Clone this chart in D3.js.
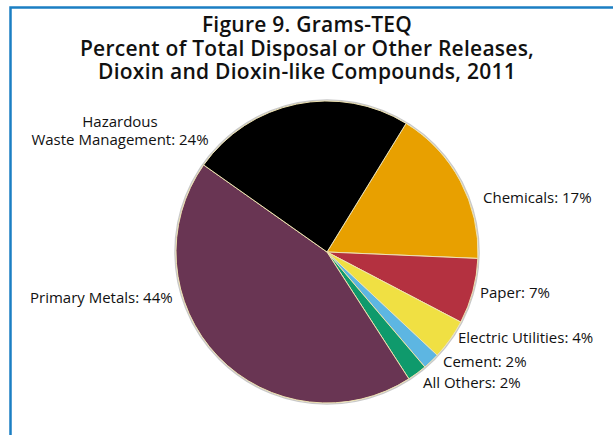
<!DOCTYPE html>
<html>
<head>
<meta charset="utf-8">
<script src="https://cdn.jsdelivr.net/npm/d3@7"></script>
<style>
  html, body { margin: 0; padding: 0; background: #fff; }
  svg { display: block; font-family: "Open Sans", sans-serif; }
</style>
</head>
<body>
<svg id="chart" width="613" height="435"></svg>
<script>
// slices clockwise, starting with Chemicals
const categories = ['Chemicals', 'Paper', 'Electric Utilities', 'Cement', 'All Others', 'Primary Metals', 'Hazardous Waste Management'];
const percents = [16.9, 7.0, 4.3, 1.8, 2.1, 43.9, 24.0];
const colors = ['#e8a000', '#b43140', '#f0e043', '#5db6e2', '#0f9a6c', '#693553', '#000000'];
const titleLines = ['Figure 9. Grams-TEQ', 'Percent of Total Disposal or Other Releases,', 'Dioxin and Dioxin-like Compounds, 2011'];

// label placement, one per slice
const labelPos = [
  { x: 483, y: 203, anchor: 'start' },
  { x: 480, y: 298, anchor: 'start' },
  { x: 458, y: 343, anchor: 'start' },
  { x: 443, y: 367, anchor: 'start' },
  { x: 423, y: 388, anchor: 'start' },
  { x: 30, y: 303, anchor: 'start' },
  { x: 120, y: 145, anchor: 'middle' }
];

const svg = d3.select('#chart');
const cx = 327, cy = 252, radius = 151;

// frame
svg.append('path')
  .attr('d', 'M10.5,435 L10.5,7.5 L613,7.5')
  .attr('fill', 'none')
  .attr('stroke', '#1b7fc3')
  .attr('stroke-width', 2.5);

svg.selectAll('text.title')
  .data(titleLines)
  .enter().append('text')
    .attr('class', 'title')
    .attr('x', 307)
    .attr('y', (d, i) => 32 + i * 23.5)
    .attr('text-anchor', 'middle')
    .attr('font-size', 21)
    .attr('font-weight', 600)
    .attr('letter-spacing', 0.25)
    .attr('fill', '#111')
    .text(d => d);

const startAngle = 31.6 * Math.PI / 180;
const pie = d3.pie()
  .value(d => d)
  .sort(null)
  .startAngle(startAngle)
  .endAngle(startAngle + 2 * Math.PI);

const arc = d3.arc().innerRadius(0).outerRadius(radius);

const g = svg.append('g').attr('transform', `translate(${cx},${cy})`);

g.append('circle')
  .attr('r', radius + 1)
  .attr('fill', 'none')
  .attr('stroke', '#c9c9c9')
  .attr('stroke-width', 1.5);

g.selectAll('path.slice')
  .data(pie(percents))
  .enter().append('path')
    .attr('class', 'slice')
    .attr('d', arc)
    .attr('fill', (d, i) => colors[i])
    .attr('stroke', '#eee2b0')
    .attr('stroke-width', 1);

categories.forEach((c, i) => {
  const p = labelPos[i];
  const label = `${c}: ${Math.round(percents[i])}%`;
  const t = svg.append('text')
    .attr('x', p.x)
    .attr('y', p.y)
    .attr('text-anchor', p.anchor)
    .attr('font-size', 15)
    .attr('fill', '#111');
  if (c === 'Hazardous Waste Management') {
    t.append('tspan').attr('x', p.x).attr('dy', -18).text('Hazardous');
    t.append('tspan').attr('x', p.x).attr('dy', 18).text(`Waste Management: ${Math.round(percents[i])}%`);
  } else {
    t.text(label);
  }
});
</script>
</body>
</html>
